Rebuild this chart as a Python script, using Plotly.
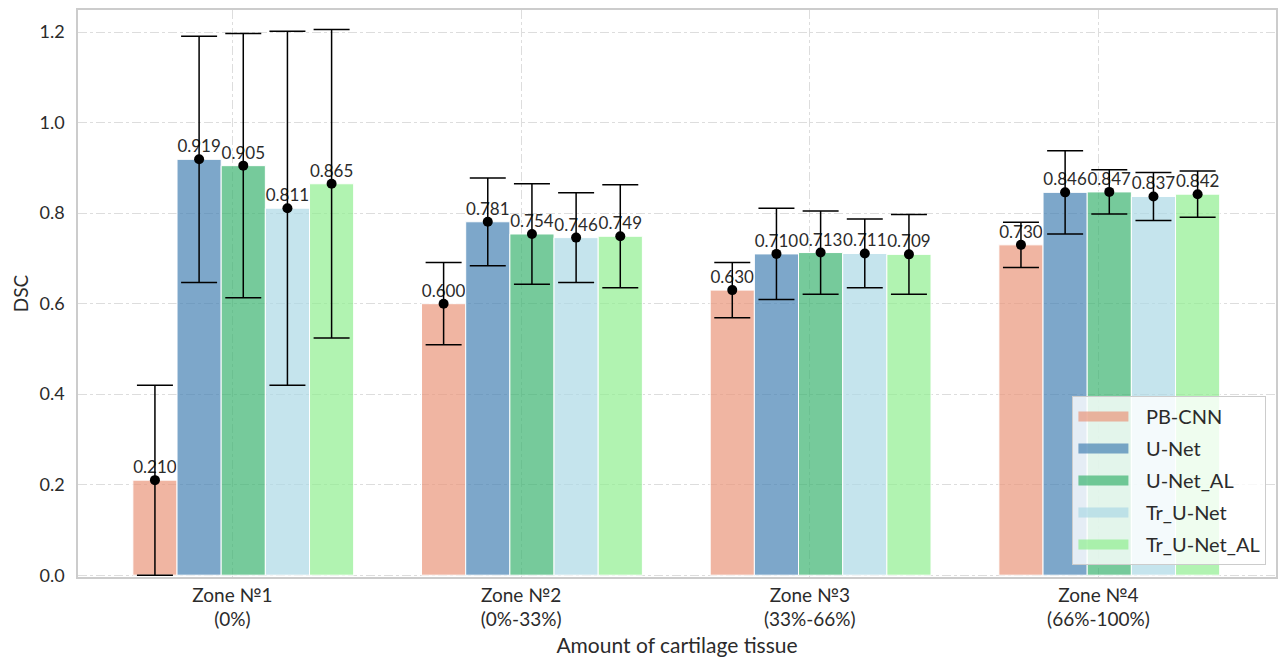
import plotly.graph_objects as go

# Zones (x categories)
zones = ["Zone №1<br>(0%)", "Zone №2<br>(0%-33%)", "Zone №3<br>(33%-66%)", "Zone №4<br>(66%-100%)"]

# Models
models = ["PB-CNN", "U-Net", "U-Net_AL", "Tr_U-Net", "Tr_U-Net_AL"]

# Mean DSC per model, one value per zone
pb_cnn_mean = [0.210, 0.600, 0.630, 0.730]
unet_mean = [0.919, 0.781, 0.710, 0.846]
unet_al_mean = [0.905, 0.754, 0.713, 0.847]
tr_unet_mean = [0.811, 0.746, 0.711, 0.837]
tr_unet_al_mean = [0.865, 0.749, 0.709, 0.842]

# Standard deviation of DSC per model, one value per zone
pb_cnn_std = [0.210, 0.091, 0.061, 0.050]
unet_std = [0.272, 0.097, 0.101, 0.092]
unet_al_std = [0.292, 0.111, 0.092, 0.049]
tr_unet_std = [0.391, 0.099, 0.076, 0.053]
tr_unet_al_std = [0.341, 0.114, 0.088, 0.051]

means = [pb_cnn_mean, unet_mean, unet_al_mean, tr_unet_mean, tr_unet_al_mean]
stds = [pb_cnn_std, unet_std, unet_al_std, tr_unet_std, tr_unet_al_std]

colors = [
    "rgba(233,150,122,0.7)",   # darksalmon
    "rgba(70,130,180,0.7)",    # steelblue
    "rgba(60,179,113,0.7)",    # mediumseagreen
    "rgba(173,216,230,0.7)",   # lightblue
    "rgba(144,238,144,0.7)",   # lightgreen
]

FONT = "Lato, 'Open Sans', sans-serif"
TEXT = "#2b2b2b"

bar_w = 0.153
first_left = -0.345
xpos = list(range(len(zones)))

fig = go.Figure()

# bars with value labels
for i, (name, m, c) in enumerate(zip(models, means, colors)):
    left = first_left + i * bar_w
    fig.add_trace(go.Bar(
        x=xpos, y=m, name=name,
        width=bar_w, offset=left,
        marker=dict(color=c, line=dict(color="white", width=1)),
        texttemplate="%{y:.3f}", textposition="outside",
        textfont=dict(family=FONT, size=17, color=TEXT),
        constraintext="none", cliponaxis=False,
        showlegend=False, hoverinfo="skip",
    ))

# mean markers with std error bars
for i, (m, s) in enumerate(zip(means, stds)):
    centre = first_left + i * bar_w + bar_w / 2
    fig.add_trace(go.Scatter(
        x=[k + centre for k in xpos], y=m, mode="markers",
        marker=dict(color="black", size=10),
        error_y=dict(type="data", array=s, visible=True,
                     color="black", thickness=1.5, width=18),
        showlegend=False, hoverinfo="skip", cliponaxis=False,
    ))

# legend entries drawn as wide colour patches
for i, (name, c) in enumerate(zip(models, colors)):
    fig.add_trace(go.Scatter(
        x=[None], y=[None], mode="lines", name="\u2002\u2009" + name,
        line=dict(color=c, width=15),
        legendgroup=name, hoverinfo="skip",
    ))

grid = "#dddddd"
fig.update_layout(
    width=1281, height=660,
    margin=dict(l=78, r=3, t=10, b=83),
    paper_bgcolor="white", plot_bgcolor="white",
    barmode="overlay",
    font=dict(family=FONT, size=16, color=TEXT),
    legend=dict(
        x=0.992, y=0.021, xanchor="right", yanchor="bottom",
        bgcolor="rgba(255,255,255,0.8)", bordercolor="#cccccc", borderwidth=1,
        font=dict(family=FONT, size=20, color=TEXT),
        tracegroupgap=3, itemwidth=50,
    ),
    xaxis=dict(
        range=[-0.535, 3.615],
        tickvals=xpos, ticktext=zones,
        showgrid=True, gridcolor=grid, griddash="dashdot", gridwidth=1,
        showline=True, linecolor="#cccccc", linewidth=1.5, mirror=True,
        ticks="", zeroline=False,
        title=dict(text="Amount of cartilage tissue", standoff=9,
                   font=dict(family=FONT, size=21, color=TEXT)),
        tickfont=dict(family=FONT, size=19, color=TEXT),
    ),
    yaxis=dict(
        range=[-0.004, 1.249],
        tickvals=[0.0, 0.2, 0.4, 0.6, 0.8, 1.0, 1.2],
        tickformat=".1f",
        showgrid=True, gridcolor=grid, griddash="dashdot", gridwidth=1,
        showline=True, linecolor="#cccccc", linewidth=1.5, mirror=True,
        ticks="", zeroline=False, ticklabelstandoff=8,
        title=dict(text="DSC", standoff=6,
                   font=dict(family=FONT, size=19, color=TEXT)),
        tickfont=dict(family=FONT, size=18, color=TEXT),
    ),
)

fig.write_html("out.html")
